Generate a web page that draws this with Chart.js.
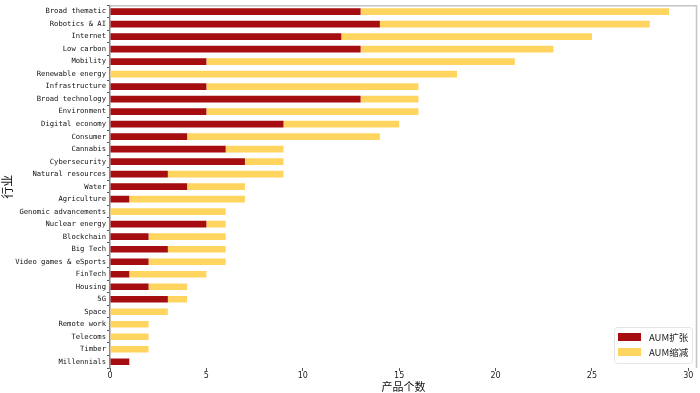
<!DOCTYPE html>
<html>
<head>
<meta charset="utf-8">
<script src="https://cdn.jsdelivr.net/npm/chart.js@4"></script>
<style>
html,body{margin:0;padding:0;background:#fff;}
#wrap{width:700px;height:393px;position:relative;}
</style>
</head>
<body>
<div id="wrap"><canvas id="c" width="700" height="393"></canvas></div>
<script>
const categories = ["Broad thematic","Robotics & AI","Internet","Low carbon","Mobility","Renewable energy","Infrastructure","Broad technology","Environment","Digital economy","Consumer","Cannabis","Cybersecurity","Natural resources","Water","Agriculture","Genomic advancements","Nuclear energy","Blockchain","Big Tech","Video games & eSports","FinTech","Housing","5G","Space","Remote work","Telecoms","Timber","Millennials"];
const aumExpand =   [13,14,12,13,5,0,5,13,5,9,4,6,7,3,4,1,0,5,2,3,2,1,2,3,0,0,0,0,1];
const aumShrink =   [16,14,13,10,16,18,11,3,11,6,10,3,2,6,3,6,6,1,4,3,4,4,2,1,3,2,2,2,0];
const xTicks = [0,5,10,15,20,25,30];
const seriesNames = ["AUM扩张","AUM缩减"];
const colors = ["#A50D10","#FFD45F"];

const frame = {
  id:'frame',
  afterDraw(chart){
    const {ctx, chartArea:a} = chart;
    ctx.save();
    ctx.strokeStyle = '#c4c4c4';
    ctx.lineWidth = 1.5;
    ctx.beginPath();
    ctx.moveTo(a.left, a.top+0.5);
    ctx.lineTo(a.right-0.5, a.top+0.5);
    ctx.lineTo(a.right-0.5, a.bottom);
    ctx.stroke();
    // legend (lower right, inside axes)
    const bw = 78, bh = 36;
    const bx = a.right - 5 - bw, by = a.bottom - 5 - bh;
    ctx.fillStyle = 'rgba(255,255,255,0.85)';
    ctx.strokeStyle = '#e4e4e4';
    ctx.lineWidth = 1;
    ctx.beginPath();
    if (ctx.roundRect) ctx.roundRect(bx+0.5, by+0.5, bw, bh, 3); else ctx.rect(bx+0.5,by+0.5,bw,bh);
    ctx.fill(); ctx.stroke();
    ctx.font = '9.5px "Noto Sans CJK SC"';
    ctx.textBaseline = 'middle';
    for (let i=0;i<2;i++){
      const y = by + 10 + i*15;
      ctx.fillStyle = colors[i];
      ctx.fillRect(bx+4, y-4, 23, 8);
      ctx.fillStyle = '#222';
      ctx.fillText(seriesNames[i], bx+35, y);
    }
    ctx.restore();
  }
};

new Chart(document.getElementById('c'), {
  type:'bar',
  data:{
    labels:categories,
    datasets:[
      {label:seriesNames[0], data:aumExpand, backgroundColor:colors[0], borderWidth:0, barPercentage:0.53, categoryPercentage:1},
      {label:seriesNames[1], data:aumShrink, backgroundColor:colors[1], borderWidth:0, barPercentage:0.53, categoryPercentage:1}
    ]
  },
  options:{
    indexAxis:'y',
    responsive:false,
    animation:false,
    devicePixelRatio:1,
    layout:{padding:{top:2,right:3,left:0,bottom:0}},
    plugins:{legend:{display:false}, tooltip:{enabled:false}},
    scales:{
      x:{
        stacked:true, min:0, max:30.45,
        afterBuildTicks(s){ s.ticks = xTicks.map(v=>({value:v})); },
        afterFit(s){ s.height = 25; },
        grid:{display:true, drawOnChartArea:false, drawTicks:true, tickLength:3, color:'#555'},
        border:{display:false},
        ticks:{font:{family:'"DejaVu Sans"', size:8}, color:'#222', padding:0, maxRotation:0},
        title:{display:true, text:'产品个数', font:{family:'"Noto Sans CJK SC"', size:11}, color:'#111', padding:{top:0,bottom:0}}
      },
      y:{
        stacked:true,
        afterFit(s){ s.width = 110; },
        grid:{display:true, drawOnChartArea:false, drawTicks:true, tickLength:3, color:'#555'},
        border:{display:true, color:'#888', width:1.5},
        ticks:{font:{family:'"DejaVu Sans Mono"', size:7.2}, color:'#111', padding:1, autoSkip:false},
        title:{display:true, text:'行业', font:{family:'"Noto Sans CJK SC"', size:12}, color:'#111', padding:{top:0,bottom:0}}
      }
    }
  },
  plugins:[frame]
});
</script>
</body>
</html>
